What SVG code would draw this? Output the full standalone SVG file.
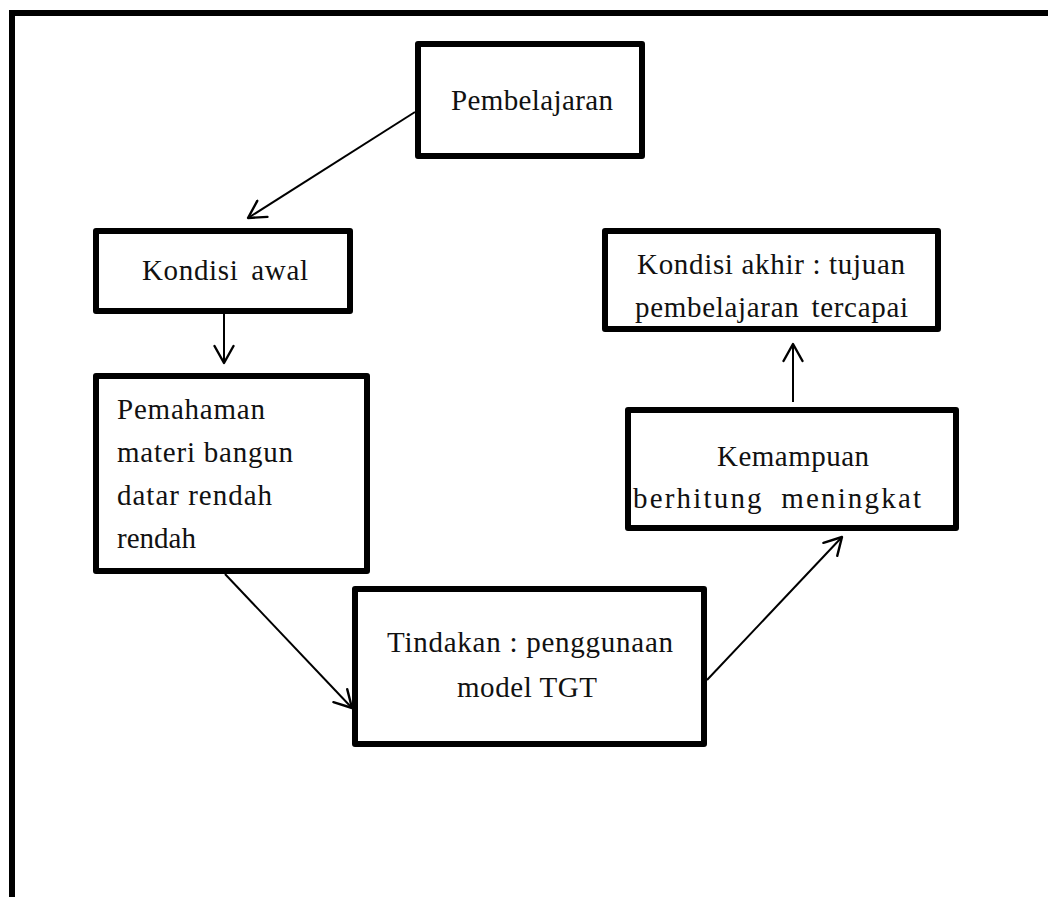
<svg xmlns="http://www.w3.org/2000/svg" width="1048" height="897" viewBox="0 0 1048 897">
<style>
.box{fill:#fff;stroke:#000;stroke-width:6;stroke-linejoin:round}
.t{font-family:"Liberation Serif","Times New Roman",serif;font-size:29px;fill:#111}
.c{fill:none;stroke:#000;stroke-width:2}
</style>
<defs>
<marker id="ah" viewBox="-20 -11 23 22" refX="0" refY="0" markerWidth="23" markerHeight="22" markerUnits="userSpaceOnUse" orient="auto">
<path d="M-17,-9.5 L0,0 L-17,9.5" fill="none" stroke="#000" stroke-width="2.4" stroke-linecap="round" stroke-linejoin="round"/>
</marker>
</defs>
<rect width="1048" height="897" fill="#fff"/>
<path d="M12,900 V13 H1052" fill="none" stroke="#000" stroke-width="6"/>
<g id="connectors">
<line class="c" x1="415" y1="112" x2="248" y2="218" marker-end="url(#ah)"/>
<line class="c" x1="224" y1="314" x2="224" y2="363" marker-end="url(#ah)"/>
<line class="c" x1="225" y1="574" x2="352" y2="708" marker-end="url(#ah)"/>
<line class="c" x1="707" y1="680" x2="842" y2="537" marker-end="url(#ah)"/>
<line class="c" x1="793" y1="402" x2="793" y2="344" marker-end="url(#ah)"/>
</g>
<g id="pembelajaran">
<rect class="box" x="418" y="44" width="224" height="112"/>
<text class="t" x="451" y="110" textLength="162" lengthAdjust="spacing">Pembelajaran</text>
</g>
<g id="kondisi-awal">
<rect class="box" x="96" y="231" width="254" height="80"/>
<text class="t" x="142" y="280" word-spacing="5" textLength="166" lengthAdjust="spacing">Kondisi awal</text>
</g>
<g id="pemahaman">
<rect class="box" x="96" y="376" width="271" height="195"/>
<text class="t" x="117" y="419" textLength="148" lengthAdjust="spacing">Pemahaman</text>
<text class="t" x="117" y="462" textLength="176" lengthAdjust="spacing">materi bangun</text>
<text class="t" x="117" y="505" textLength="155" lengthAdjust="spacing">datar rendah</text>
<text class="t" x="117" y="548">rendah</text>
</g>
<g id="tindakan">
<rect class="box" x="355" y="589" width="349" height="155"/>
<text class="t" x="387" y="652" textLength="286" lengthAdjust="spacing">Tindakan : penggunaan</text>
<text class="t" x="457" y="697" textLength="140" lengthAdjust="spacing">model TGT</text>
</g>
<g id="kemampuan">
<rect class="box" x="628" y="410" width="328" height="118"/>
<text class="t" x="717" y="466" textLength="152" lengthAdjust="spacing">Kemampuan</text>
<text class="t" x="633" y="508" word-spacing="8" textLength="288" lengthAdjust="spacing">berhitung meningkat</text>
</g>
<g id="kondisi-akhir">
<rect class="box" x="605" y="231" width="333" height="98"/>
<text class="t" x="637" y="274" textLength="268" lengthAdjust="spacing">Kondisi akhir : tujuan</text>
<text class="t" x="635" y="317" word-spacing="4" textLength="273" lengthAdjust="spacing">pembelajaran tercapai</text>
</g>
</svg>
